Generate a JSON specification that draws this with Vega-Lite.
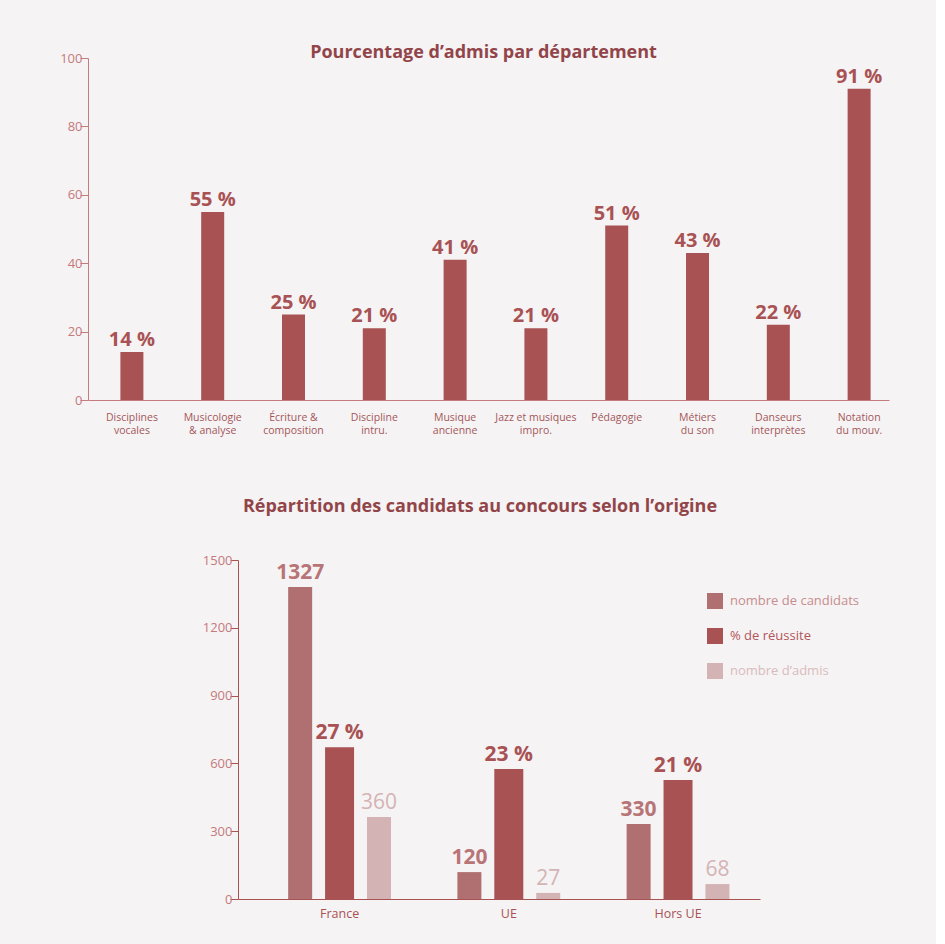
{
  "$schema": "https://vega.github.io/schema/vega-lite/v6.json",
  "background": "#f6f3f4",
  "padding": {"left": 59, "top": 44, "right": 47, "bottom": 30},
  "config": {"view": {"stroke": null}, "font": "Open Sans"},
  "spacing": 62,
  "vconcat": [
    {
      "width": 801,
      "height": 342,
      "title": {"text": "Pourcentage d’admis par département", "fontSize": 18, "fontWeight": "bold", "color": "#924549", "font": "Open Sans", "anchor": "middle", "frame": "group", "dx": -5, "offset": -10},
      "data": {"values": [
        {"departement": "Disciplines|vocales", "pourcentage": 14, "label": "14 %"},
        {"departement": "Musicologie|& analyse", "pourcentage": 55, "label": "55 %"},
        {"departement": "Écriture &|composition", "pourcentage": 25, "label": "25 %"},
        {"departement": "Discipline|intru.", "pourcentage": 21, "label": "21 %"},
        {"departement": "Musique|ancienne", "pourcentage": 41, "label": "41 %"},
        {"departement": "Jazz et musiques|impro.", "pourcentage": 21, "label": "21 %"},
        {"departement": "Pédagogie", "pourcentage": 51, "label": "51 %"},
        {"departement": "Métiers|du son", "pourcentage": 43, "label": "43 %"},
        {"departement": "Danseurs|interprètes", "pourcentage": 22, "label": "22 %"},
        {"departement": "Notation|du mouv.", "pourcentage": 91, "label": "91 %"}
      ]},
      "encoding": {
        "x": {"field": "departement", "type": "nominal", "sort": null,
          "scale": {"paddingInner": 0.5, "paddingOuter": 0.2065, "align": 0.71},
          "axis": {"title": null, "labelExpr": "split(datum.label, '|')", "labelAngle": 0, "ticks": false, "domainColor": "#c47c7f", "labelColor": "#a3575a", "labelFontSize": 10.5, "labelPadding": 12, "labelLineHeight": 13}},
        "y": {"field": "pourcentage", "type": "quantitative", "scale": {"domain": [0, 100]},
          "axis": {"title": null, "values": [0, 20, 40, 60, 80, 100], "grid": false, "tickSize": 8, "tickColor": "#c47c7f", "domainColor": "#c47c7f", "labelColor": "#c47a7d", "labelFontSize": 13, "labelPadding": -2,
            "encode": {"ticks": {"update": {"x2": {"value": 8}}}}}}
      },
      "layer": [
        {"mark": {"type": "bar", "width": 23, "color": "#a85254"}},
        {"mark": {"type": "text", "baseline": "alphabetic", "dy": -6, "fontSize": 20, "fontWeight": "bold", "color": "#a85254"}, "encoding": {"text": {"field": "label"}}}
      ]
    },
    {
      "spacing": 0,
      "hconcat": [
        {
          "width": 114,
          "height": 339,
          "data": {"values": [{"vide": 0}]},
          "mark": {"type": "point", "opacity": 0},
          "encoding": {}
        },
        {
          "width": 522,
          "height": 339,
          "title": {"text": "Répartition des candidats au concours selon l’origine", "fontSize": 18, "fontWeight": "bold", "color": "#924549", "font": "Open Sans", "anchor": "middle", "frame": "group", "dx": -19, "offset": 38},
          "data": {"values": [
            {"origine": "France", "serie": "nombre de candidats", "valeur": 1380, "etiquette": "1327"},
            {"origine": "France", "serie": "% de réussite", "valeur": 672, "etiquette": "27 %"},
            {"origine": "France", "serie": "nombre d’admis", "valeur": 363, "etiquette": "360"},
            {"origine": "UE", "serie": "nombre de candidats", "valeur": 119, "etiquette": "120"},
            {"origine": "UE", "serie": "% de réussite", "valeur": 575, "etiquette": "23 %"},
            {"origine": "UE", "serie": "nombre d’admis", "valeur": 27, "etiquette": "27"},
            {"origine": "Hors UE", "serie": "nombre de candidats", "valeur": 332, "etiquette": "330"},
            {"origine": "Hors UE", "serie": "% de réussite", "valeur": 527, "etiquette": "21 %"},
            {"origine": "Hors UE", "serie": "nombre d’admis", "valeur": 66, "etiquette": "68"}
          ]},
          "encoding": {
            "x": {"field": "origine", "type": "nominal", "sort": null,
              "scale": {"paddingInner": 0.3014, "paddingOuter": 0.193, "align": 0.65},
              "axis": {"title": null, "labelAngle": 0, "ticks": false, "domainColor": "#a85254", "labelColor": "#a85254", "labelFontSize": 12.5, "labelPadding": 8}},
            "xOffset": {"field": "serie", "type": "nominal", "sort": ["nombre de candidats", "% de réussite", "nombre d’admis"], "scale": {"paddingInner": 0, "paddingOuter": 0}},
            "y": {"field": "valeur", "type": "quantitative", "scale": {"domain": [0, 1500]},
              "axis": {"title": null, "values": [0, 300, 600, 900, 1200, 1500], "format": "d", "grid": false, "tickSize": 8, "tickColor": "#a85254", "domainColor": "#a85254", "labelColor": "#c47a7d", "labelFontSize": 13, "labelPadding": -2,
                "encode": {"ticks": {"update": {"x2": {"value": 8}}}}}}
          },
          "layer": [
            {
              "transform": [{"filter": "datum.serie != '% de réussite'"}],
              "mark": {"type": "bar", "width": 24},
              "encoding": {
                "color": {"field": "serie", "type": "nominal",
                  "scale": {"domain": ["nombre de candidats", "% de réussite", "nombre d’admis"], "range": ["#b07072", "#a85254", "#d3b3b4"]},
                  "legend": {"title": null, "orient": "none", "legendX": 619, "legendY": 535, "symbolType": "square", "symbolSize": 256, "symbolStrokeWidth": 0, "symbolOpacity": 1, "labelFontSize": 13, "labelOffset": 7, "rowPadding": 19,
                    "encode": {"labels": {"update": {"fill": {"signal": "datum.value == 'nombre de candidats' ? '#c68d8f' : (datum.value == '% de réussite' ? '#b0565a' : '#d8bcbd')"}}}}}
                }
              }
            },
            {
              "transform": [{"filter": "datum.serie == '% de réussite'"}],
              "mark": {"type": "bar", "width": 29},
              "encoding": {"color": {"field": "serie", "type": "nominal"}}
            },
            {
              "transform": [{"filter": "datum.serie != 'nombre d’admis'"}],
              "mark": {"type": "text", "baseline": "alphabetic", "dy": -8, "fontSize": 21, "fontWeight": "bold"},
              "encoding": {
                "text": {"field": "etiquette"},
                "color": {"condition": {"test": "datum.serie == 'nombre de candidats'", "value": "#b87577"}, "value": "#a85254"}
              }
            },
            {
              "transform": [{"filter": "datum.serie == 'nombre d’admis'"}],
              "mark": {"type": "text", "baseline": "alphabetic", "dy": -8, "fontSize": 21, "fontWeight": "normal", "color": "#d3b3b4"},
              "encoding": {"text": {"field": "etiquette"}}
            }
          ]
        }
      ]
    }
  ]
}
